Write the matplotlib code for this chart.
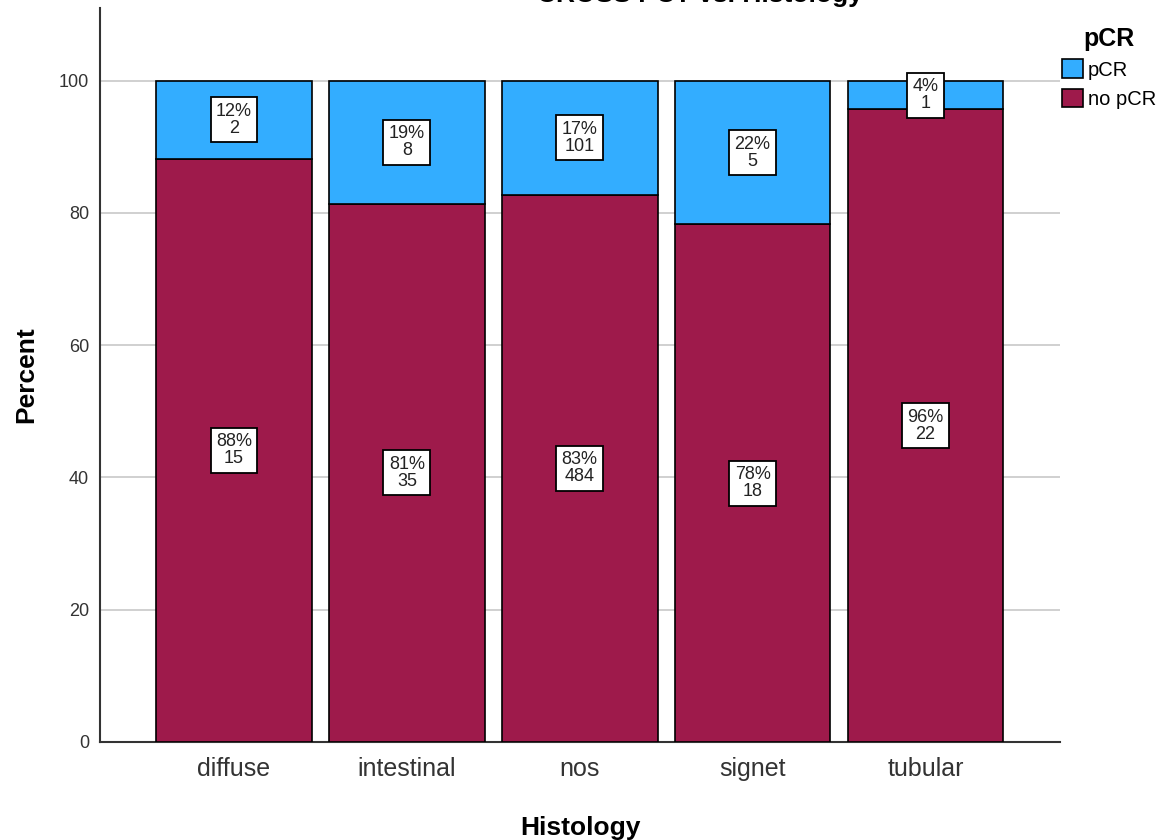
import matplotlib
matplotlib.use("Agg")
import matplotlib.pyplot as plt
import numpy as np

plt.rcParams['font.family'] = ['Liberation Sans', 'DejaVu Sans']

categories = ["diffuse", "intestinal", "nos", "signet", "tubular"]
n_pcr = [2, 8, 101, 5, 1]
n_no_pcr = [15, 35, 484, 18, 22]
yticks = [0, 20, 40, 60, 80, 100]

c_pcr = "#33adff"
c_no = "#9e1a4b"

tot = np.array(n_pcr) + np.array(n_no_pcr)
p_no = np.array(n_no_pcr) / tot * 100
p_pcr = np.array(n_pcr) / tot * 100

W, H = 1168, 840
fig = plt.figure(figsize=(W / 100, H / 100), dpi=100)
ax = fig.add_axes([100 / W, (H - 742) / H, 960 / W, (742 - 8) / H])

x = np.arange(len(categories))
ax.bar(x, p_no, width=0.9, color=c_no, edgecolor="black", linewidth=1.2, zorder=3, label="no pCR")
ax.bar(x, p_pcr, bottom=p_no, width=0.9, color=c_pcr, edgecolor="black", linewidth=1.2, zorder=3, label="pCR")

box = dict(boxstyle="square,pad=0.3", facecolor="white", edgecolor="black", linewidth=1.3)
for i in range(len(categories)):
    ax.text(x[i], p_no[i] / 2, f"{p_no[i]:.0f}%\n{n_no_pcr[i]}", ha="center", va="center",
            fontsize=13, linespacing=1.0, bbox=box, zorder=5, color="#222222")
    ax.text(x[i], p_no[i] + p_pcr[i] / 2, f"{p_pcr[i]:.0f}%\n{n_pcr[i]}", ha="center", va="center",
            fontsize=13, linespacing=1.0, bbox=box, zorder=5, color="#222222")

ax.set_xlim(-0.775, len(categories) - 1 + 0.778)
ax.set_ylim(0, 111)
ax.set_yticks(yticks)
ax.set_xticks(x)
ax.set_xticklabels(categories, fontsize=18, color="#333333")
ax.tick_params(axis="y", labelsize=13, colors="#333333", length=0, pad=8)
ax.tick_params(axis="x", length=0, pad=11)
ax.yaxis.grid(True, color="#c8c8c8", linewidth=1.2, zorder=0)
ax.set_axisbelow(True)
for s in ["top", "right"]:
    ax.spines[s].set_visible(False)
ax.spines["left"].set_linewidth(1.5)
ax.spines["bottom"].set_linewidth(1.5)
ax.spines["left"].set_color("#333333")
ax.spines["bottom"].set_color("#333333")

ax.set_ylabel("Percent", fontsize=19, fontweight="bold", labelpad=15)
ax.set_xlabel("Histology", fontsize=19, fontweight="bold", labelpad=25)

fig.text(700 / W, 1 - 2 / H, "CROSS PCT vs. Histology", ha="center", va="baseline",
         fontsize=19, fontweight="bold")

handles, labels = ax.get_legend_handles_labels()
leg = fig.legend(handles[::-1], labels[::-1], title="pCR", loc="upper left",
                 bbox_to_anchor=(1062 / W, 1 - 27 / H), frameon=False, fontsize=14.5,
                 title_fontproperties={"weight": "bold", "size": 18},
                 handlelength=1.05, handleheight=1.05, handletextpad=0.25, labelspacing=0.45,
                 borderpad=0, borderaxespad=0)
leg._legend_box.sep = 6

fig.savefig("out.png", dpi=100)
